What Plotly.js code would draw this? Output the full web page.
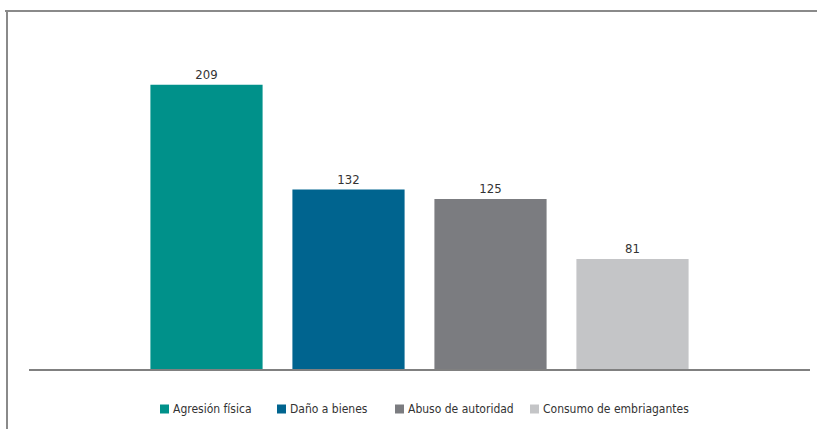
<!DOCTYPE html>
<html>
<head>
<meta charset="utf-8">
<script src="https://cdn.plot.ly/plotly-3.0.1.min.js"></script>
<style>html,body{margin:0;padding:0;background:#fff;}#chart{width:817px;height:429px;}</style>
</head>
<body>
<div id="chart"></div>
<script>
const categories = ["Agresión física", "Daño a bienes", "Abuso de autoridad", "Consumo de embriagantes"];
const values = [209, 132, 125, 81];
const colors = ["#00918a", "#00648f", "#7b7c80", "#c4c5c7"];

const FONT = '"DejaVu Sans Condensed", "Liberation Sans Narrow", "Roboto", sans-serif';

// plot-area geometry (pixels) used to place frame and legend in paper units
const W = 817, H = 429, ML = 29, MR = 7, MT = 40, MB = 60;
const PW = W - ML - MR, PH = H - MT - MB;
const px = v => (v - ML) / PW;
const py = v => (H - MB - v) / PH;

const traces = categories.map((c, i) => ({
  type: "bar",
  name: c,
  x: [c],
  y: [values[i]],
  marker: {color: colors[i]},
  text: [String(values[i])],
  textposition: "outside",
  cliponaxis: false,
  textfont: {family: FONT, size: 13, color: "#333"},
  showlegend: false
}));

// custom legend: square + label
const legendSquareX = [160, 277, 395, 530];
const legendY = 409, sq = 9;
const shapes = [
  {type: "line", xref: "paper", yref: "paper", x0: px(5), x1: px(817), y0: py(11), y1: py(11),
   line: {color: "#8a8a8a", width: 2}},
  {type: "line", xref: "paper", yref: "paper", x0: px(7), x1: px(7), y0: py(11), y1: py(429),
   line: {color: "#8a8a8a", width: 2}}
];
const annotations = [];
categories.forEach((c, i) => {
  const x0 = legendSquareX[i];
  shapes.push({type: "rect", xref: "paper", yref: "paper",
    x0: px(x0), x1: px(x0 + sq), y0: py(legendY + sq / 2), y1: py(legendY - sq / 2),
    fillcolor: colors[i], line: {width: 0}});
  annotations.push({xref: "paper", yref: "paper", x: px(x0 + sq + 2), y: py(legendY),
    xanchor: "left", yanchor: "middle", showarrow: false, text: c,
    font: {family: FONT, size: 12, color: "#333"}});
});

const layout = {
  width: W, height: H,
  margin: {l: ML, r: MR, t: MT, b: MB},
  paper_bgcolor: "#fff", plot_bgcolor: "#fff",
  barmode: "overlay",
  bargap: 0.21,
  font: {family: FONT, size: 13, color: "#333"},
  xaxis: {
    type: "category",
    categoryorder: "array", categoryarray: categories,
    range: [-1.25, 4.25],
    showticklabels: false, ticks: "",
    showgrid: false, zeroline: false,
    showline: true, linecolor: "#808080", linewidth: 2
  },
  yaxis: {
    range: [0, 242],
    visible: false, showgrid: false, zeroline: false
  },
  showlegend: false,
  shapes: shapes,
  annotations: annotations
};

Plotly.newPlot("chart", traces, layout, {displayModeBar: false, staticPlot: true});
</script>
</body>
</html>
